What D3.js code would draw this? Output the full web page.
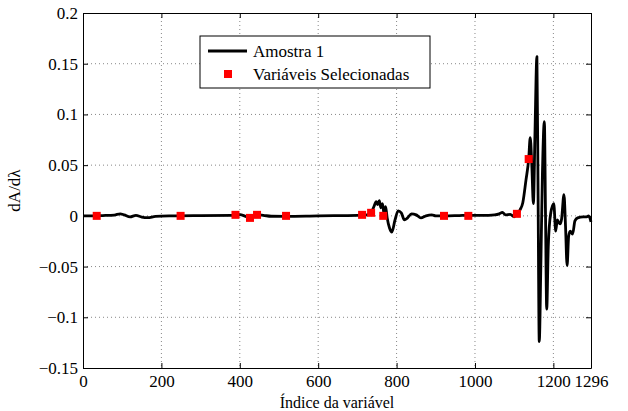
<!DOCTYPE html>
<html>
<head>
<meta charset="utf-8">
<script src="https://cdn.jsdelivr.net/npm/d3@7"></script>
</head>
<body style="margin:0; background:#fff">
<svg width="628" height="411"></svg>
<script>
// curva (índice, valor)
var lineIndex = [0, 20, 50, 80, 95, 105, 120, 135, 150, 165, 185, 230, 300, 380, 400, 415, 426, 444, 460, 480, 518, 600, 700, 712, 725, 735, 742, 748, 752, 756, 760, 764, 768, 772, 776, 782, 788, 796, 804, 812, 820, 828, 838, 850, 862, 875, 890, 900, 921, 960, 983, 1020, 1050, 1062, 1070, 1078, 1090, 1100, 1107, 1115, 1122, 1130, 1137, 1141, 1145, 1149, 1153, 1158, 1161, 1164, 1168, 1172, 1177, 1180, 1183, 1187, 1193, 1201, 1206, 1210, 1213, 1217, 1221, 1227, 1231, 1235, 1239, 1243, 1249, 1255, 1262, 1276, 1285, 1290, 1296];
var lineValue = [0, 0, 0.0003, 0.0008, 0.002, 0.001, -0.001, 0.0005, -0.0012, -0.0018, -0.0005, 0, 0.0003, 0.0005, 0.0012, -0.0005, -0.0018, 0.001, 0.0005, -0.0004, -0.0005, 0, 0.0004, 0.0005, 0.001, 0.003, 0.009, 0.014, 0.011, 0.015, 0.008, 0.012, 0.002, 0.009, -0.002, -0.012, -0.016, -0.004, 0.005, 0.003, -0.004, -0.002, 0.002, 0.001, -0.002, 0, 0.001, 0, 0, 0.0003, 0.0005, 0.0005, 0.001, 0.002, 0.0035, 0.001, 0.0015, -0.001, 0.002, 0.006, 0.013, 0.035, 0.056, 0.077, 0.05, 0.012, 0.08, 0.157, 0.02, -0.124, -0.05, 0.04, 0.093, 0, -0.092, -0.03, 0.002, 0.012, -0.015, -0.004, -0.006, -0.008, -0.003, 0.021, -0.01, -0.049, -0.02, -0.015, -0.018, -0.005, -0.002, -0.001, -0.001, 0, -0.006];

// variáveis selecionadas
var markerIndex = [35, 249, 389, 426, 444, 518, 712, 735, 766, 921, 983, 1107, 1137];
var markerValue = [0, 0, 0.001, -0.002, 0.001, 0, 0.001, 0.003, 0, 0, 0, 0.002, 0.056];

var xTicks = [0, 200, 400, 600, 800, 1000, 1200, 1296];
var yTicks = [-0.15, -0.1, -0.05, 0, 0.05, 0.1, 0.15, 0.2];

var FONT = "Times New Roman, Liberation Serif, serif";

var svg = d3.select("svg"),
    margin = { top: 13, right: 37, bottom: 43, left: 83 },
    width = +svg.attr("width") - margin.left - margin.right,
    height = +svg.attr("height") - margin.top - margin.bottom;

var x = d3.scaleLinear().domain([0, 1296]).range([0, width]),
    y = d3.scaleLinear().domain([-0.15, 0.2]).range([height, 0]);

var g = svg.append("g")
    .attr("transform", "translate(" + margin.left + "," + margin.top + ")");

// grade pontilhada
g.selectAll(".gx").data(xTicks.slice(1, -1)).enter().append("line")
    .attr("x1", function (d) { return x(d); }).attr("x2", function (d) { return x(d); })
    .attr("y1", 0).attr("y2", height)
    .attr("stroke", "#888").attr("stroke-dasharray", "1,3");
g.selectAll(".gy").data(yTicks.slice(1, -1)).enter().append("line")
    .attr("y1", function (d) { return y(d); }).attr("y2", function (d) { return y(d); })
    .attr("x1", 0).attr("x2", width)
    .attr("stroke", "#888").attr("stroke-dasharray", "1,3");

var fmt = function (d) { return (d < 0 ? "\u2212" : "") + String(Math.abs(d)); };

// eixos (ticks para dentro, estilo MATLAB)
g.append("g").attr("transform", "translate(0," + height + ")")
    .call(d3.axisBottom(x).tickValues(xTicks).tickSizeInner(-5).tickSizeOuter(0).tickPadding(7).tickFormat(fmt));
g.append("g")
    .call(d3.axisTop(x).tickValues(xTicks).tickSizeInner(-5).tickSizeOuter(0).tickFormat(""));
g.append("g")
    .call(d3.axisLeft(y).tickValues(yTicks).tickSizeInner(-5).tickSizeOuter(0).tickPadding(5).tickFormat(fmt));
g.append("g").attr("transform", "translate(" + width + ",0)")
    .call(d3.axisRight(y).tickValues(yTicks).tickSizeInner(-5).tickSizeOuter(0).tickFormat(""));

g.selectAll(".domain").attr("stroke", "#000");
g.selectAll(".tick line").attr("stroke", "#000");

// curva
var pts = lineIndex.map(function (d, i) { return [d, lineValue[i]]; });
g.append("path")
    .datum(pts)
    .attr("fill", "none")
    .attr("stroke", "#000")
    .attr("stroke-width", 2.8)
    .attr("stroke-linejoin", "round")
    .attr("d", d3.line()
        .x(function (d) { return x(d[0]); })
        .y(function (d) { return y(d[1]); })
        .curve(d3.curveMonotoneX));

// marcadores
g.selectAll(".m").data(markerIndex).enter().append("rect")
    .attr("x", function (d) { return x(d) - 4; })
    .attr("y", function (d, i) { return y(markerValue[i]) - 4; })
    .attr("width", 8).attr("height", 8)
    .attr("fill", "#f00");

// rótulos
svg.append("text")
    .attr("class", "xlabel")
    .attr("x", margin.left + width / 2).attr("y", 408)
    .attr("text-anchor", "middle")
    .text("Índice da variável");
svg.append("text")
    .attr("transform", "translate(20," + (margin.top + height / 2) + ") rotate(-90)")
    .attr("text-anchor", "middle")
    .text("dA/dλ");

// legenda
var lg = svg.append("g").attr("transform", "translate(200,36)");
lg.append("rect").attr("width", 230).attr("height", 52)
    .attr("fill", "#fff").attr("stroke", "#000");
lg.append("line").attr("x1", 8).attr("x2", 47).attr("y1", 15).attr("y2", 15)
    .attr("stroke", "#000").attr("stroke-width", 2.8);
lg.append("text").attr("x", 53).attr("y", 21).text("Amostra 1");
lg.append("rect").attr("x", 24).attr("y", 34).attr("width", 8).attr("height", 8).attr("fill", "#f00");
lg.append("text").attr("x", 53).attr("y", 44).text("Variáveis Selecionadas");

// fonte serifada em todos os textos
svg.selectAll("g").attr("font-family", FONT);
svg.selectAll("text")
    .attr("font-family", FONT)
    .style("font-family", FONT)
    .style("font-size", "17px")
    .attr("fill", "#000");
svg.select(".xlabel").style("font-size", "16px");
</script>
</body>
</html>
